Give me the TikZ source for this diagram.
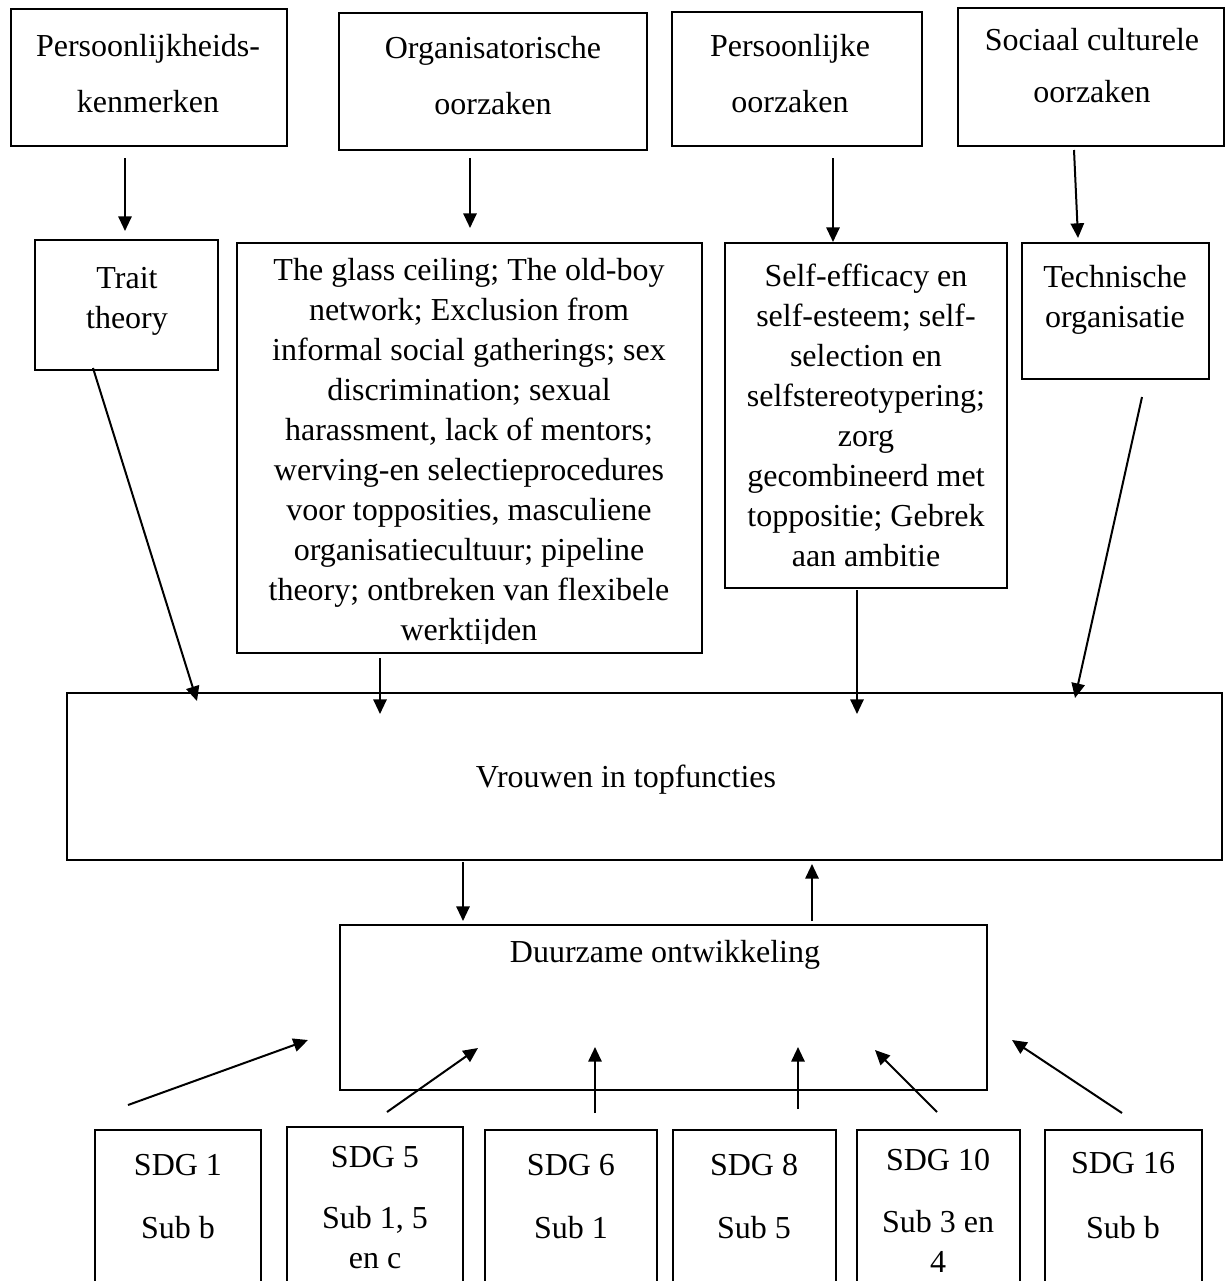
\documentclass[tikz,border=0pt]{standalone}
\usepackage{fontspec}
\setmainfont{Liberation Serif}
\usetikzlibrary{arrows.meta,fit}
\tikzset{
  box/.style={draw, line width=0.9pt, inner sep=0pt, rectangle},
  txt/.style={font=\fontsize{12}{15}\selectfont, align=center, inner sep=0pt},
  txttop/.style={font=\fontsize{12}{21}\selectfont, align=center, inner sep=0pt},
  txtsoc/.style={font=\fontsize{12}{19.5}\selectfont, align=center, inner sep=0pt},
  arr/.style={line width=0.75pt, -{Triangle[length=5.5pt,width=5pt]}},
}
\begin{document}
\begin{tikzpicture}[x=0.375pt,y=-0.375pt]
\useasboundingbox (0,0) rectangle (1225,1281);
\clip (0,0) rectangle (1225,1281);
\fill[white] (0,0) rectangle (1225,1281);
% top row
\node[box, fit={(11,9) (287,146)}] (p1) {};
\node[txttop] (p1t) at (148,74) {Persoonlijkheids-\\kenmerken};
\node[box, fit={(339,13) (647,150)}] (p2) {};
\node[txttop] (p2t) at (493,76) {Organisatorische\\oorzaken};
\node[box, fit={(672,12) (922,146)}] (p3) {};
\node[txttop] (p3t) at (790,74) {Persoonlijke\\oorzaken};
\node[box, fit={(958,8) (1224,146)}] (p4) {};
\node[txtsoc] (p4t) at (1092,66) {Sociaal culturele\\oorzaken};
% middle row
\node[box, fit={(35,240) (218,370)}] (m1) {};
\node[txt] (m1t) at (127,301) {Trait\\theory};
\node[box, fit={(237,243) (702,653)}] (m2) {};
\begin{scope}
\clip (237,243) rectangle (702,643);
\node[txt] (m2t) at (469,453) {The glass ceiling; The old-boy\\network; Exclusion from\\informal social gatherings; sex\\discrimination; sexual\\harassment, lack of mentors;\\werving-en selectieprocedures\\voor topposities, masculiene\\organisatiecultuur; pipeline\\theory; ontbreken van flexibele\\werktijden};
\end{scope}
\node[box, fit={(725,243) (1007,588)}] (m3) {};
\node[txt] (m3t) at (866,415) {Self-efficacy en\\self-esteem; self-\\selection en\\selfstereotypering;\\zorg\\gecombineerd met\\toppositie; Gebrek\\aan ambitie};
\node[box, fit={(1022,243) (1209,379)}] (m4) {};
\node[txt] (m4t) at (1115,300) {Technische\\organisatie};
% central boxes
\node[box, fit={(67,693) (1222,860)}] (vr) {};
\node[txt] (vrt) at (626,780) {Vrouwen in topfuncties};
\node[box, fit={(340,925) (987,1090)}] (dz) {};
\node[txt] (dzt) at (665,955) {Duurzame ontwikkeling};
% SDG boxes
\node[box, fit={(95,1130) (261,1300)}] (s1) {};
\node[txt] (s1a) at (178,1165) {SDG 1};
\node[txt] (s1b) at (178,1228) {Sub b};
\node[box, fit={(287,1127) (463,1300)}] (s5) {};
\node[txt] (s5a) at (375,1157) {SDG 5};
\node[txt] (s5b) at (375,1238) {Sub 1, 5\\en c};
\node[box, fit={(485,1130) (657,1300)}] (s6) {};
\node[txt] (s6a) at (571,1165) {SDG 6};
\node[txt] (s6b) at (571,1228) {Sub 1};
\node[box, fit={(673,1130) (836,1300)}] (s8) {};
\node[txt] (s8a) at (754,1165) {SDG 8};
\node[txt] (s8b) at (754,1228) {Sub 5};
\node[box, fit={(857,1130) (1020,1300)}] (s10) {};
\node[txt] (s10a) at (938,1160) {SDG 10};
\node[txt] (s10b) at (938,1241) {Sub 3 en\\4};
\node[box, fit={(1045,1130) (1202,1300)}] (s16) {};
\node[txt] (s16a) at (1123,1163) {SDG 16};
\node[txt] (s16b) at (1123,1228) {Sub b};
% arrow end points
\coordinate (a1s) at (125,158);  \coordinate (a1e) at (125,231);
\coordinate (a2s) at (470,158);  \coordinate (a2e) at (470,228);
\coordinate (a3s) at (833,158);  \coordinate (a3e) at (833,242);
\coordinate (a4s) at (1074,150); \coordinate (a4e) at (1078,238);
\coordinate (b1s) at (93,368);   \coordinate (b1e) at (197,701);
\coordinate (b2s) at (380,658);  \coordinate (b2e) at (380,714);
\coordinate (b3s) at (857,590);  \coordinate (b3e) at (857,714);
\coordinate (b4s) at (1142,397); \coordinate (b4e) at (1075,698);
\coordinate (c1s) at (463,862);  \coordinate (c1e) at (463,921);
\coordinate (c2s) at (812,921);  \coordinate (c2e) at (812,864);
\coordinate (d1s) at (128,1105); \coordinate (d1e) at (308,1040);
\coordinate (d2s) at (387,1112); \coordinate (d2e) at (478,1048);
\coordinate (d3s) at (595,1113); \coordinate (d3e) at (595,1047);
\coordinate (d4s) at (798,1109); \coordinate (d4e) at (798,1047);
\coordinate (d5s) at (937,1112); \coordinate (d5e) at (875,1050);
\coordinate (d6s) at (1122,1113);\coordinate (d6e) at (1012,1040);
\foreach \a in {a1,a2,a3,a4,b1,b2,b3,b4,c1,c2,d1,d2,d3,d4,d5,d6}
  \draw[arr] (\a s) -- (\a e);
\end{tikzpicture}
\end{document}
